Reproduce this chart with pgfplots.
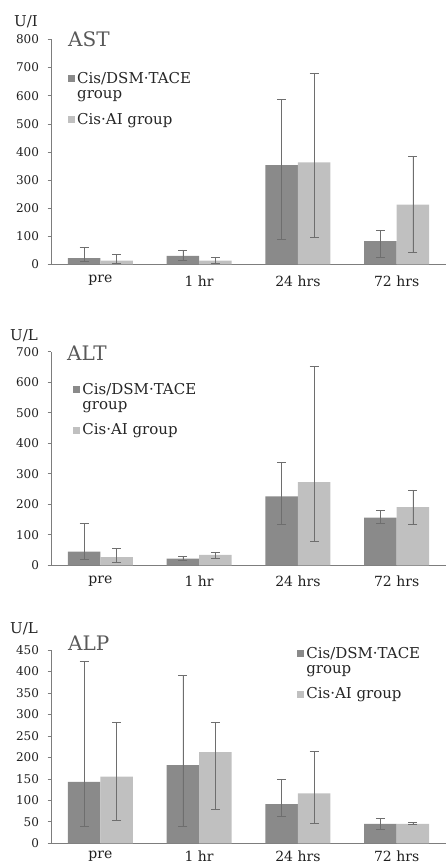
\documentclass[border=0pt]{standalone}
\usepackage{pgfplots}
\pgfplotsset{compat=1.18}
\usepackage{fontspec}
\setmainfont{DejaVu Serif}

\definecolor{darkbar}{RGB}{138,138,138}
\definecolor{lightbar}{RGB}{192,192,192}
\definecolor{errc}{RGB}{110,110,110}
\definecolor{axc}{RGB}{125,125,125}

\pgfplotsset{
 panel/.style={
  scale only axis, width=395pt,
  anchor=south west,
  xmin=-0.5, xmax=3.5,
  ymin=0,
  axis x line*=bottom, axis y line*=left,
  axis line style={axc, line width=0.8pt},
  xtick={0,1,2,3}, xticklabels={pre,1 hr,24 hrs,72 hrs},
  xtick style={draw=none},
  ytick style={axc, line width=0.7pt},
  tick align=outside, major tick length=3.5pt,
  ticklabel style={font=\fontsize{12}{14}\selectfont, text=black!88},
  xticklabel style={font=\fontsize{14}{15}\selectfont, yshift=-4pt},
  yticklabel style={xshift=-5pt},
  /pgf/number format/assume math mode=true,
  ybar=0pt, bar width=32.5pt,
  legend cell align=left,
  legend style={draw=none, fill=none, font=\fontsize{15}{15}\selectfont, text=black!85, inner sep=0pt, row sep=9pt, cells={align=left}, /tikz/every even column/.append style={column sep=6pt}},
  legend image code/.code={\fill[##1] (0pt,-3.5pt) rectangle (7pt,3.5pt);},
  error bars/y dir=both, error bars/y explicit,
  error bars/error bar style={errc, line width=0.7pt},
  error bars/error mark options={errc, line width=0.7pt, rotate=90, mark size=4.5pt},
 },
 twoline/.style={legend image code/.code={\fill[##1] (0pt,4pt) rectangle (7pt,11pt);}},
}

\begin{document}
\begin{tikzpicture}
\path[use as bounding box] (0,0) rectangle (446pt,-866pt);

% ---------------- AST ----------------
\begin{axis}[panel, at={(51pt,-264.5pt)}, height=225pt, ymax=800, ytick={0,100,...,800},
  legend style={at={(axis description cs:0.043,0.864)}, anchor=north west}]
\addplot[fill=darkbar, draw=none, twoline] coordinates {
 (0,23) += (0,37) -= (0,13)
 (1,31) += (0,21) -= (0,17)
 (2,353) += (0,234) -= (0,262)
 (3,83) += (0,39) -= (0,56)
};
\addlegendentry{Cis/DSM·TACE\\group}
\addplot[fill=lightbar, draw=none] coordinates {
 (0,14) += (0,22) -= (0,10)
 (1,14) += (0,10) -= (0,10)
 (2,363) += (0,318) -= (0,267)
 (3,213) += (0,173) -= (0,170)
};
\addlegendentry{Cis·AI group}
\end{axis}
\node[anchor=base west, font=\fontsize{15}{16}\selectfont, text=black!85, inner sep=0pt] at (14pt,-26.7pt) {U/I};
\node[anchor=base west, font=\fontsize{20}{22}\selectfont, text=black!65, inner sep=0pt] at (68pt,-46.7pt) {AST};

% ---------------- ALT ----------------
\begin{axis}[panel, at={(51pt,-565.3pt)}, height=213.6pt, ymax=700, ytick={0,100,...,700},
  legend style={at={(axis description cs:0.056,0.863)}, anchor=north west}]
\addplot[fill=darkbar, draw=none, twoline] coordinates {
 (0,45) += (0,92) -= (0,25)
 (1,22) += (0,6) -= (0,7)
 (2,226) += (0,111) -= (0,92)
 (3,156) += (0,23) -= (0,17)
};
\addlegendentry{Cis/DSM·TACE\\group}
\addplot[fill=lightbar, draw=none] coordinates {
 (0,27) += (0,27) -= (0,18)
 (1,34) += (0,7) -= (0,12)
 (2,273) += (0,378) -= (0,193)
 (3,191) += (0,56) -= (0,57)
};
\addlegendentry{Cis·AI group}
\end{axis}
\node[anchor=base west, font=\fontsize{15}{16}\selectfont, text=black!85, inner sep=0pt] at (10pt,-340pt) {U/L};
\node[anchor=base west, font=\fontsize{20}{22}\selectfont, text=black!65, inner sep=0pt] at (67pt,-360pt) {ALT};

% ---------------- ALP ----------------
\begin{axis}[panel, at={(51pt,-843.3pt)}, height=193.3pt, ymax=450, ytick={0,50,...,450},
  xticklabel style={yshift=3pt},
  legend style={at={(axis description cs:0.623,1.026)}, anchor=north west}]
\addplot[fill=darkbar, draw=none, twoline] coordinates {
 (0,143) += (0,280) -= (0,104)
 (1,182) += (0,209) -= (0,143)
 (2,91) += (0,59) -= (0,29)
 (3,45) += (0,12) -= (0,12)
};
\addlegendentry{Cis/DSM·TACE\\group}
\addplot[fill=lightbar, draw=none] coordinates {
 (0,155) += (0,127) -= (0,101)
 (1,212) += (0,69) -= (0,134)
 (2,116) += (0,98) -= (0,70)
 (3,45) += (0,4) -= (0,2)
};
\addlegendentry{Cis·AI group}
\end{axis}
\node[anchor=base west, font=\fontsize{15}{16}\selectfont, text=black!85, inner sep=0pt] at (10pt,-633pt) {U/L};
\node[anchor=base west, font=\fontsize{20}{22}\selectfont, text=black!65, inner sep=0pt] at (68pt,-650pt) {ALP};
\end{tikzpicture}
\end{document}
